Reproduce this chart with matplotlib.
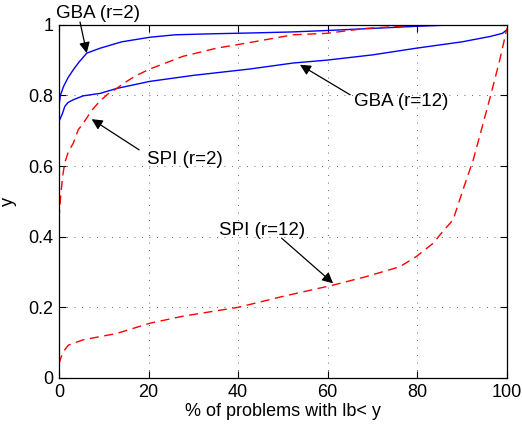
import numpy as np
from matplotlib import pyplot as plt

plt.rcParams['font.family'] = ['Liberation Sans', 'DejaVu Sans']

# GBA, r=2 (upper blue)
gba2_x = [0, 0.3, 1, 2, 3.2, 4.5, 6.2, 9.2, 14, 20.3, 26, 35, 42.6, 52, 59.7, 70, 79.8, 86, 90, 100]
gba2_y = [0.77, 0.80, 0.825, 0.85, 0.873, 0.895, 0.92, 0.934, 0.952, 0.965, 0.972, 0.975, 0.977,
          0.98, 0.984, 0.99, 0.996, 0.999, 1.0, 1.0]

# GBA, r=12 (lower blue)
gba12_x = [0, 0.3, 0.8, 1.3, 2, 3.2, 5.4, 9.2, 12.9, 20.3, 30, 42.6, 52.3, 59.7, 70, 79.8, 90, 96.2, 99, 100]
gba12_y = [0.726, 0.735, 0.75, 0.769, 0.78, 0.788, 0.799, 0.806, 0.82, 0.84, 0.857, 0.875, 0.892,
           0.90, 0.915, 0.934, 0.952, 0.967, 0.976, 0.986]

# SPI, r=2 (upper red)
spi2_x = [0, 0.3, 0.8, 1.3, 2.1, 3.2, 4.3, 5.4, 6.9, 7.6, 9.2, 11, 12.9, 14.4, 17, 20.3, 27.7, 35.2,
          42.6, 52.3, 59.7, 68.5, 75, 79.8, 100]
spi2_y = [0.45, 0.504, 0.57, 0.61, 0.641, 0.665, 0.703, 0.721, 0.75, 0.762, 0.785, 0.805, 0.82,
          0.834, 0.855, 0.875, 0.911, 0.934, 0.95, 0.972, 0.976, 0.99, 0.995, 1.0, 1.0]

# SPI, r=12 (lower red)
spi12_x = [0, 0.5, 1, 2.1, 5.4, 12.9, 20.3, 27.7, 40, 50, 61.2, 68.6, 76.1, 79.8, 83.5, 85.7, 88,
           90.2, 92.5, 94.7, 96.5, 98.4, 99.6, 100]
spi12_y = [0.04, 0.06, 0.075, 0.093, 0.108, 0.126, 0.155, 0.175, 0.20, 0.231, 0.263, 0.287, 0.315,
           0.344, 0.381, 0.415, 0.448, 0.533, 0.618, 0.721, 0.806, 0.90, 0.967, 0.99]

xticks = [0, 20, 40, 60, 80, 100]
yticks = [0, 0.2, 0.4, 0.6, 0.8, 1]
ytick_labels = ['0', '0.2', '0.4', '0.6', '0.8', '1']

fig = plt.figure(figsize=(5.22, 4.29), dpi=100)
ax = fig.add_axes([0.113, 0.119, 0.858, 0.823])

ax.plot(gba2_x, gba2_y, color='#0000ff', lw=1)
ax.plot(gba12_x, gba12_y, color='#0000ff', lw=1)
ax.plot(spi2_x, spi2_y, color='#ff0000', lw=1, linestyle=(0, (6.5, 4)))
ax.plot(spi12_x, spi12_y, color='#ff0000', lw=1, linestyle=(0, (6.5, 4)))

ax.set_xlim(0, 100)
ax.set_ylim(0, 1)
ax.set_xticks(xticks)
ax.set_yticks(yticks)
ax.set_yticklabels(ytick_labels)
ax.tick_params(direction='in', top=True, right=True, length=5, width=0.8, labelsize=13, pad=4)
ax.grid(True, linestyle=(0, (1, 8)), linewidth=0.6, color='0.2')
for s in ax.spines.values():
    s.set_linewidth(0.9)

ax.set_xlabel('% of problems with lb< y', fontsize=13, labelpad=2)
ax.set_ylabel('y', fontsize=13, labelpad=8)

arrow = dict(arrowstyle='-|>', color='k', lw=0.9, mutation_scale=16, shrinkA=0, shrinkB=0)
labels = [
    ('GBA (r=2)', (8.6, 1.033), (4.7, 1.008), (6.2, 0.92)),
    ('GBA (r=12)', (76.3, 0.783), (65.0, 0.802), (53.8, 0.887)),
    ('SPI (r=2)', (28.1, 0.620), (17.9, 0.646), (7.3, 0.733)),
    ('SPI (r=12)', (45.3, 0.419), (49.7, 0.396), (61.2, 0.268)),
]
for txt, tpos, tail, head in labels:
    ax.text(tpos[0], tpos[1], txt, fontsize=13.5, ha='center', va='center', clip_on=False)
    ax.annotate('', xy=head, xytext=tail, arrowprops=arrow, annotation_clip=False)

fig.savefig('out.png', dpi=100)
